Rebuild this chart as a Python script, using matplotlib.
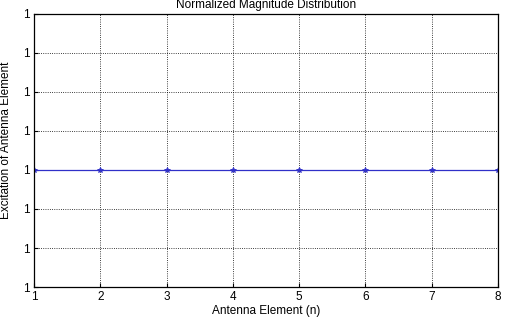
import numpy as np
import matplotlib
matplotlib.use('Agg')
import matplotlib.pyplot as plt
from matplotlib.ticker import FormatStrFormatter

plt.rc('font', family='Liberation Sans', size=8)

# data
elements = [1, 2, 3, 4, 5, 6, 7, 8]
excitation = [1, 1, 1, 1, 1, 1, 1, 1]

d = 1e-6
yticks = [1 + k * d for k in range(-3, 5)]

fig = plt.figure(figsize=(5.05, 3.17), dpi=100)
ax = fig.add_axes([0.0673, 0.0946, 0.9190, 0.8614])

ax.plot(elements, excitation, color='#3030c8', linewidth=0.9,
        marker='*', markersize=4, markeredgewidth=0.6)

ax.set_xlim(1, 8)
ax.set_ylim(yticks[0], yticks[-1])
ax.set_xticks(elements)
ax.set_yticks(yticks)
ax.yaxis.set_major_formatter(FormatStrFormatter('%.3g'))
ax.grid(True, color='black', linestyle=':', linewidth=0.6)
ax.tick_params(direction='in', length=3, width=0.8, labelsize=8.5, pad=3)
for s in ax.spines.values():
    s.set_linewidth(0.9)

ax.set_title('Normalized Magnitude Distribution', fontsize=8.5, pad=4)
ax.set_xlabel('Antenna Element (n)', fontsize=8.5, labelpad=1)
ax.set_ylabel('Excitation of Antenna Element', fontsize=8.5)
ax.yaxis.set_label_coords(-0.048, 0.538)

fig.savefig('out.png', dpi=100)
